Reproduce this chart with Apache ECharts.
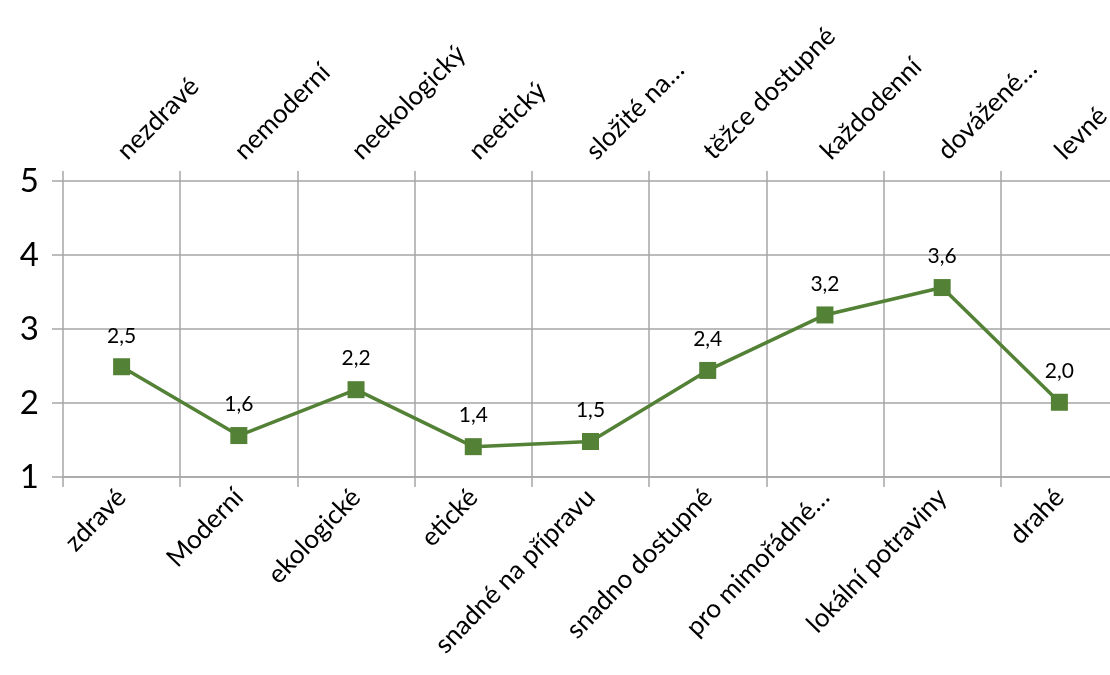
<!DOCTYPE html>
<html>
<head>
<meta charset="utf-8">
<script src="https://cdn.jsdelivr.net/npm/echarts@6/dist/echarts.min.js"></script>
<style>html,body{margin:0;padding:0;background:#fff;overflow:hidden}#c{width:1130px;height:675px}</style>
</head>
<body>
<div id="c"></div>
<script>
const bottomCategories = ['zdravé','Moderní','ekologické','etické','snadné na přípravu','snadno dostupné','pro mimořádné…','lokální potraviny','drahé'];
const topCategories = ['nezdravé','nemoderní','neekologický','neetický','složité na…','těžce dostupné','každodenní','dovážené…','levné'];
const values = [2.49, 1.56, 2.18, 1.41, 1.48, 2.44, 3.19, 3.56, 2.01];
const yTicks = {min: 1, max: 5, interval: 1};

const FONT = 'Lato';
const GRID = '#a6a6a6';
const GREEN = '#538135';

const chart = echarts.init(document.getElementById('c'), null, {renderer: 'canvas'});
chart.setOption({
  animation: false,
  grid: {left: 63, width: 1055, top: 181, height: 296, containLabel: false},
  xAxis: [
    {
      type: 'category', data: bottomCategories, position: 'bottom', boundaryGap: true,
      axisLine: {show: true, lineStyle: {color: GRID, width: 1.5}},
      axisTick: {show: true, length: 10, lineStyle: {color: GRID, width: 1.5}},
      splitLine: {show: true, lineStyle: {color: GRID, width: 1.5}},
      axisLabel: {rotate: 46, fontFamily: FONT, fontSize: 26, color: '#000', margin: 16, interval: 0}
    },
    {
      type: 'category', data: topCategories, position: 'top', boundaryGap: true,
      axisLine: {show: false},
      axisTick: {show: true, length: 10, lineStyle: {color: GRID, width: 1.5}},
      splitLine: {show: false},
      axisLabel: {rotate: -45, fontFamily: FONT, fontSize: 26, color: '#000', margin: 26, interval: 0}
    }
  ],
  yAxis: {
    type: 'value', min: yTicks.min, max: yTicks.max, interval: yTicks.interval,
    axisLine: {show: false},
    axisTick: {show: true, length: 11, lineStyle: {color: GRID, width: 1.5}},
    splitLine: {show: true, lineStyle: {color: GRID, width: 1.5}},
    axisLabel: {fontFamily: FONT, fontSize: 33, color: '#000', margin: 24}
  },
  series: [{
    type: 'line', data: values, xAxisIndex: 0,
    symbol: 'rect', symbolSize: 17,
    lineStyle: {color: GREEN, width: 3.5},
    itemStyle: {color: GREEN},
    label: {
      show: true, position: 'top', distance: 12,
      fontFamily: FONT, fontSize: 21, color: '#000',
      formatter: p => p.value.toFixed(1).replace('.', ',')
    }
  }]
});
</script>
</body>
</html>
